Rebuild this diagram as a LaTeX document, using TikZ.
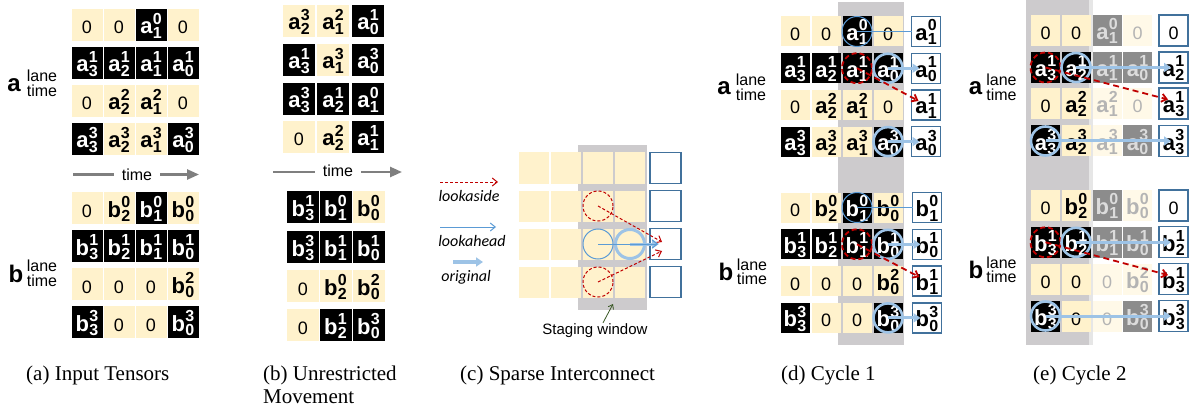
\documentclass[tikz,border=0pt]{standalone}
\usepackage{fontspec}
\setmainfont{Liberation Sans}
\newfontfamily\serifcap{Liberation Serif}
\newfontfamily\calib{Carlito}
\usetikzlibrary{arrows.meta,calc}
\definecolor{cream}{HTML}{FFF2CC}
\definecolor{fcream}{HTML}{FFF9E8}
\definecolor{gcell}{HTML}{8C8C8C}
\definecolor{gtext}{HTML}{DCDCDC}
\definecolor{ftext}{HTML}{B4B4B4}
\definecolor{swin}{HTML}{CDCBCD}
\definecolor{swlight}{HTML}{E6E6E6}
\definecolor{boxblue}{HTML}{41719C}
\definecolor{thinblue}{HTML}{5B9BD5}
\definecolor{lblue}{HTML}{9DC3E6}
\definecolor{dred}{HTML}{C00000}
\definecolor{tgray}{HTML}{7F7F7F}
\definecolor{dgreen}{HTML}{385723}
\newcommand{\el}[3]{\fontsize{22}{22}\selectfont\bfseries #1\kern0.3pt\rlap{\raisebox{9.5pt}{\fontsize{16}{16}\selectfont #3}}\raisebox{-4.5pt}{\fontsize{16}{16}\selectfont #2}}
\newcommand{\zr}{\fontsize{18}{18}\selectfont 0}
\newcommand{\C}[5]{\node[#1] (#2) at (#3,#4) {#5};}
\newcommand{\inputtensors}[1]{%
\C{lt}{#1a11}{\pxa}{\pya}{\zr}\C{lt}{#1a12}{\pxb}{\pya}{\zr}\C{bk}{#1a13}{\pxc}{\pya}{\el{a}{1}{0}}\C{lt}{#1a14}{\pxd}{\pya}{\zr}%
\C{bk}{#1a21}{\pxa}{\pyb}{\el{a}{3}{1}}\C{bk}{#1a22}{\pxb}{\pyb}{\el{a}{2}{1}}\C{bk}{#1a23}{\pxc}{\pyb}{\el{a}{1}{1}}\C{bk}{#1a24}{\pxd}{\pyb}{\el{a}{0}{1}}%
\C{lt}{#1a31}{\pxa}{\pyc}{\zr}\C{lt}{#1a32}{\pxb}{\pyc}{\el{a}{2}{2}}\C{lt}{#1a33}{\pxc}{\pyc}{\el{a}{1}{2}}\C{lt}{#1a34}{\pxd}{\pyc}{\zr}%
\C{bk}{#1a41}{\pxa}{\pyd}{\el{a}{3}{3}}\C{lt}{#1a42}{\pxb}{\pyd}{\el{a}{2}{3}}\C{lt}{#1a43}{\pxc}{\pyd}{\el{a}{1}{3}}\C{bk}{#1a44}{\pxd}{\pyd}{\el{a}{0}{3}}%
\C{lt}{#1b11}{\pxa}{\pye}{\zr}\C{lt}{#1b12}{\pxb}{\pye}{\el{b}{2}{0}}\C{bk}{#1b13}{\pxc}{\pye}{\el{b}{1}{0}}\C{lt}{#1b14}{\pxd}{\pye}{\el{b}{0}{0}}%
\C{bk}{#1b21}{\pxa}{\pyf}{\el{b}{3}{1}}\C{bk}{#1b22}{\pxb}{\pyf}{\el{b}{2}{1}}\C{bk}{#1b23}{\pxc}{\pyf}{\el{b}{1}{1}}\C{bk}{#1b24}{\pxd}{\pyf}{\el{b}{0}{1}}%
\C{lt}{#1b31}{\pxa}{\pyg}{\zr}\C{lt}{#1b32}{\pxb}{\pyg}{\zr}\C{lt}{#1b33}{\pxc}{\pyg}{\zr}\C{lt}{#1b34}{\pxd}{\pyg}{\el{b}{0}{2}}%
\C{bk}{#1b41}{\pxa}{\pyh}{\el{b}{3}{3}}\C{lt}{#1b42}{\pxb}{\pyh}{\zr}\C{lt}{#1b43}{\pxc}{\pyh}{\zr}\C{bk}{#1b44}{\pxd}{\pyh}{\el{b}{0}{3}}%
}
\tikzset{
 cell/.style={inner sep=0pt, outer sep=0pt, text height=20pt, text depth=2pt, minimum width=30pt, minimum height=31pt},
 lt/.style={cell, fill=cream, text=black},
 bk/.style={cell, fill=black, text=white},
 gy/.style={cell, fill=gcell, text=gtext},
 fd/.style={cell, fill=fcream, text=ftext},
 ob/.style={cell, draw=boxblue, line width=1.3pt, fill=white, text=black},
 bigl/.style={inner sep=0pt, anchor=base, font=\fontsize{24}{24}\selectfont\bfseries},
 smalll/.style={inner sep=0pt, anchor=base, font=\fontsize{16}{14}\selectfont},
 timetxt/.style={inner sep=0pt, inner xsep=8pt, anchor=base, font=\fontsize{16}{16}\selectfont},
 tarrow/.style={draw=tgray, line width=2.5pt},
 tarrowh/.style={draw=tgray, line width=2.5pt, -{Triangle[length=12pt,width=10pt]}},
 capt/.style={inner sep=0pt, anchor=base west, font=\serifcap\fontsize{21}{21}\selectfont},
 legtxt/.style={inner sep=0pt, font=\calib\itshape\fontsize{16}{16}\selectfont},
 thinc/.style={circle, draw=thinblue, line width=1pt, minimum size=30pt, inner sep=0pt},
 thickc/.style={circle, draw=lblue, line width=2.6pt, minimum size=29pt, inner sep=0pt},
 redc/.style={circle, draw=dred, line width=1.8pt, dash pattern=on 5pt off 3pt, minimum size=30pt, inner sep=0pt},
 redcthin/.style={circle, draw=dred, line width=1pt, dash pattern=on 3pt off 2pt, minimum size=30pt, inner sep=0pt},
 thickarr/.style={draw=lblue, line width=3pt, -{Triangle[length=7pt,width=9pt]}},
 thinline/.style={draw=thinblue, line width=1.1pt},
 thinarr/.style={draw=thinblue, line width=1pt, -{Straight Barb[length=5pt,width=8pt]}},
 redarr/.style={draw=dred, line width=1.8pt, dash pattern=on 6pt off 4pt, -{Straight Barb[length=5pt,width=8pt]}},
 redarrthin/.style={draw=dred, line width=1pt, dash pattern=on 3pt off 2pt, -{Straight Barb[length=5pt,width=8pt]}},
}
\begin{document}
\begin{tikzpicture}[x=1pt,y=-1pt]
\useasboundingbox[fill=white] (0,0) rectangle (1189,409);

% ---------------- (a) Input tensors
\begin{scope}[cell/.append style={minimum width=31pt, minimum height=32pt}]
\def\pxa{87}\def\pxb{119}\def\pxc{151}\def\pxd{183}
\def\pya{25}\def\pyb{63}\def\pyc{101}\def\pyd{139}
\def\pye{208}\def\pyf{246}\def\pyg{284}\def\pyh{322}
\inputtensors{A}
\end{scope}
\node[bigl] (Alab) at (14,92) {a};
\node[smalll] (Alane) at (42,82) {lane};
\node[smalll] (Atime) at (42,97) {time};
\node[bigl] (Blab) at (16,282) {b};
\node[smalll] (Blane) at (42,271) {lane};
\node[smalll] (Btime) at (42,286) {time};
\node[timetxt] (At) at (137,180) {time};
\coordinate (At1) at (73,174.5);
\coordinate (At2) at (199,174.5);
\draw[tarrow] (At1) -- (At1 -| At.west);
\draw[tarrowh] (At.east |- At2) -- (At2);

% ---------------- (b) Unrestricted movement
\begin{scope}[cell/.append style={minimum width=32pt, minimum height=32pt}]
\C{lt}{Ba11}{299}{21}{\el{a}{2}{3}}
\C{lt}{Ba12}{333}{21}{\el{a}{1}{2}}
\C{bk}{Ba13}{368}{21}{\el{a}{0}{1}}
\C{bk}{Ba21}{299}{60}{\el{a}{3}{1}}
\C{lt}{Ba22}{333}{60}{\el{a}{1}{3}}
\C{bk}{Ba23}{368}{60}{\el{a}{0}{3}}
\C{bk}{Ba31}{299}{99}{\el{a}{3}{3}}
\C{bk}{Ba32}{333}{99}{\el{a}{2}{1}}
\C{bk}{Ba33}{368}{99}{\el{a}{1}{0}}
\C{lt}{Ba41}{299}{137}{\zr}
\C{lt}{Ba42}{333}{137}{\el{a}{2}{2}}
\C{bk}{Ba43}{368}{137}{\el{a}{1}{1}}
\C{bk}{Bb11}{303}{207}{\el{b}{3}{1}}
\C{bk}{Bb12}{335.5}{207}{\el{b}{1}{0}}
\C{lt}{Bb13}{368.5}{207}{\el{b}{0}{0}}
\C{bk}{Bb21}{303}{247}{\el{b}{3}{3}}
\C{bk}{Bb22}{335.5}{247}{\el{b}{1}{1}}
\C{bk}{Bb23}{368.5}{247}{\el{b}{0}{1}}
\C{lt}{Bb31}{303}{286}{\zr}
\C{lt}{Bb32}{335.5}{286}{\el{b}{2}{0}}
\C{lt}{Bb33}{368.5}{286}{\el{b}{0}{2}}
\C{lt}{Bb41}{303}{325}{\zr}
\C{bk}{Bb42}{335.5}{325}{\el{b}{2}{1}}
\C{bk}{Bb43}{368.5}{325}{\el{b}{0}{3}}
\end{scope}
\node[timetxt] (Bt) at (338,177) {time};
\coordinate (Bt1) at (273,172);
\coordinate (Bt2) at (402,172);
\draw[tarrow] (Bt1) -- (Bt1 -| Bt.west);
\draw[tarrowh] (Bt.east |- Bt2) -- (Bt2);

% ---------------- (c) Sparse interconnect
\fill[swin] (578,145) rectangle (647,310);
\begin{scope}[cell/.append style={minimum width=30pt, minimum height=31pt}]
\foreach \r/\yy in {1/168,2/206,3/244,4/282}{
  \foreach \c/\xx in {1/534,2/566,3/598,4/630}{
    \node[lt] (Cc\r\c) at (\xx,\yy) {};
  }
  \node[ob, minimum width=31pt] (Co\r) at (665.5,\yy) {};
}
\end{scope}
\node[redcthin] (Cr1) at (598,206) {};
\node[redcthin] (Cr2) at (598,282) {};
\node[thinc] (Cb1) at (598,244) {};
\node[thickc, line width=3pt] (Cb2) at (630,244) {};
\draw[redarrthin] (Cr1.center) -- ($(Co3.west)+(12,-2)$);
\draw[redarrthin] (Cr2.center) -- ($(Co3.west)+(12,7)$);
\draw[thickarr] (Cb2.center) -- ($(Co3.west)+(9,0)$);
\draw[thinarr] (Cb1.center) -- ($(Co3.west)+(8,0)$);
\coordinate (L1a) at (440,182); \coordinate (L1b) at (498,182);
\coordinate (L2a) at (440,227); \coordinate (L2b) at (496,227);
\coordinate (L3a) at (453,262); \coordinate (L3b) at (483,262);
\draw[redarrthin] (L1a) -- (L1b);
\draw[thinarr] (L2a) -- (L2b);
\draw[thickarr, line width=3.5pt] (L3a) -- (L3b);
\node[legtxt] (Llook1) at (469,196) {lookaside};
\node[legtxt] (Llook2) at (472,241) {lookahead};
\node[legtxt] (Lorig) at (466,277) {original};
\node[inner sep=0pt, font=\fontsize{15}{15}\selectfont] (Stg) at (595,331) {Staging window};
\coordinate (StgT) at (613,304);
\draw[draw=dgreen, line width=0.8pt, -{Straight Barb[length=4pt,width=6pt]}] ($(Stg.north)+(8,-1)$) -- (StgT);

% ---------------- (d) Cycle 1
\fill[swin] (838,2) rectangle (904,345);
\begin{scope}[cell/.append style={minimum width=29pt, minimum height=30pt}]
\def\pxa{795}\def\pxb{826}\def\pxc{857}\def\pxd{888}
\def\pya{31.5}\def\pyb{68.2}\def\pyc{104.9}\def\pyd{141.6}
\def\pye{207.5}\def\pyf{244.3}\def\pyg{281.1}\def\pyh{317.9}
\inputtensors{D}
\C{ob}{Dao1}{926}{31.5}{\el{a}{1}{0}}
\C{ob}{Dao2}{926}{68.2}{\el{a}{0}{1}}
\C{ob}{Dao3}{926}{104.9}{\el{a}{1}{1}}
\C{ob}{Dao4}{926}{141.6}{\el{a}{0}{3}}
\C{ob}{Dbo1}{927}{207.5}{\el{b}{1}{0}}
\C{ob}{Dbo2}{927}{244.3}{\el{b}{0}{1}}
\C{ob}{Dbo3}{927}{281.1}{\el{b}{1}{1}}
\C{ob}{Dbo4}{927}{317.9}{\el{b}{0}{3}}
\end{scope}
\node[bigl] (Dalab) at (724,95) {a};
\node[smalll] (Dalane) at (751,86) {lane};
\node[smalll] (Datime) at (751,100.5) {time};
\node[bigl] (Dblab) at (726,280) {b};
\node[smalll] (Dblane) at (752,270) {lane};
\node[smalll] (Dbtime) at (752,284) {time};
\node[thinc] (Dca1) at (857,31.5) {};
\node[redc] (Dra) at (857,68.2) {};
\node[thickc] (Dca2) at (888,68.2) {};
\node[thickc] (Dca3) at (888,141.6) {};
\node[thinc] (Dcb1) at (857,207.5) {};
\node[redc] (Drb) at (857,244.3) {};
\node[thickc] (Dcb2) at (888,244.3) {};
\node[thickc] (Dcb3) at (888,317.9) {};
\draw[thinline] (Dca1.center) -- (Dao1.west);
\draw[thickarr] (Dca2.center) -- ($(Dao2.west)+(8,0)$);
\draw[redarr] (Dra.center) -- ($(Dao3.west)+(7,-4)$);
\draw[thickarr] (Dca3.center) -- ($(Dao4.west)+(8,0)$);
\draw[thinline] (Dcb1.center) -- (Dbo1.west);
\draw[thickarr] (Dcb2.center) -- ($(Dbo2.west)+(8,0)$);
\draw[redarr] (Drb.center) -- ($(Dbo3.west)+(7,-4)$);
\draw[thickarr] (Dcb3.center) -- ($(Dbo4.west)+(8,0)$);

% ---------------- (e) Cycle 2
\fill[swin] (1026,0) rectangle (1089,345);
\fill[swlight] (1089,0) rectangle (1093,345);
\begin{scope}[cell/.append style={minimum width=29pt, minimum height=31pt}]
\def\pxa{1045.5}\def\pxb{1076}\def\pxc{1107}\def\pxd{1137.5}
\def\pya{30.5}\def\pyb{67.5}\def\pyc{103.5}\def\pyd{141}
\def\pye{205.5}\def\pyf{242.3}\def\pyg{279.1}\def\pyh{316}
\C{lt}{Ea11}{\pxa}{\pya}{\zr}
\C{lt}{Ea12}{\pxb}{\pya}{\zr}
\C{gy}{Ea13}{\pxc}{\pya}{\el{a}{1}{0}}
\C{fd}{Ea14}{\pxd}{\pya}{\zr}
\C{bk}{Ea21}{\pxa}{\pyb}{\el{a}{3}{1}}
\C{bk}{Ea22}{\pxb}{\pyb}{\el{a}{2}{1}}
\C{gy}{Ea23}{\pxc}{\pyb}{\el{a}{1}{1}}
\C{gy}{Ea24}{\pxd}{\pyb}{\el{a}{0}{1}}
\C{lt}{Ea31}{\pxa}{\pyc}{\zr}
\C{lt}{Ea32}{\pxb}{\pyc}{\el{a}{2}{2}}
\C{fd}{Ea33}{\pxc}{\pyc}{\el{a}{1}{2}}
\C{fd}{Ea34}{\pxd}{\pyc}{\zr}
\C{bk}{Ea41}{\pxa}{\pyd}{\el{a}{3}{3}}
\C{lt}{Ea42}{\pxb}{\pyd}{\el{a}{2}{3}}
\C{fd}{Ea43}{\pxc}{\pyd}{\el{a}{1}{3}}
\C{gy}{Ea44}{\pxd}{\pyd}{\el{a}{0}{3}}
\C{lt}{Eb11}{\pxa}{\pye}{\zr}
\C{lt}{Eb12}{\pxb}{\pye}{\el{b}{2}{0}}
\C{gy}{Eb13}{\pxc}{\pye}{\el{b}{1}{0}}
\C{fd}{Eb14}{\pxd}{\pye}{\el{b}{0}{0}}
\C{bk}{Eb21}{\pxa}{\pyf}{\el{b}{3}{1}}
\C{bk}{Eb22}{\pxb}{\pyf}{\el{b}{2}{1}}
\C{gy}{Eb23}{\pxc}{\pyf}{\el{b}{1}{1}}
\C{gy}{Eb24}{\pxd}{\pyf}{\el{b}{0}{1}}
\C{lt}{Eb31}{\pxa}{\pyg}{\zr}
\C{lt}{Eb32}{\pxb}{\pyg}{\zr}
\C{fd}{Eb33}{\pxc}{\pyg}{\zr}
\C{fd}{Eb34}{\pxd}{\pyg}{\el{b}{0}{2}}
\C{bk}{Eb41}{\pxa}{\pyh}{\el{b}{3}{3}}
\C{lt}{Eb42}{\pxb}{\pyh}{\zr}
\C{fd}{Eb43}{\pxc}{\pyh}{\zr}
\C{gy}{Eb44}{\pxd}{\pyh}{\el{b}{0}{3}}
\C{ob}{Eao1}{1173.5}{30.5}{\zr}
\C{ob}{Eao2}{1173.5}{67.5}{\el{a}{2}{1}}
\C{ob}{Eao3}{1173.5}{103.5}{\el{a}{3}{1}}
\C{ob}{Eao4}{1173.5}{141}{\el{a}{3}{3}}
\C{ob}{Ebo1}{1173.5}{205.5}{\zr}
\C{ob}{Ebo2}{1173.5}{242.3}{\el{b}{2}{1}}
\C{ob}{Ebo3}{1173.5}{279.1}{\el{b}{3}{1}}
\C{ob}{Ebo4}{1173.5}{316}{\el{b}{3}{3}}
\end{scope}
\node[bigl] (Ealab) at (975.5,95) {a};
\node[smalll] (Ealane) at (1001.5,86) {lane};
\node[smalll] (Eatime) at (1001.5,100.5) {time};
\node[bigl] (Eblab) at (976,278) {b};
\node[smalll] (Eblane) at (1001.5,268) {lane};
\node[smalll] (Ebtime) at (1001.5,282) {time};
\node[redc] (Era) at (1045.5,67.5) {};
\node[thickc] (Eca1) at (1076,67.5) {};
\node[thickc] (Eca2) at (1045.5,141) {};
\node[redc] (Erb) at (1045.5,242.3) {};
\node[thickc] (Ecb1) at (1076,242.3) {};
\node[thickc] (Ecb2) at (1045.5,316) {};
\draw[redarr] (Era.center) -- ($(Eao3.west)+(9,-4)$);
\draw[thickarr] (Eca1.center) -- ($(Eao2.west)+(12,0)$);
\draw[thickarr] (Eca2.center) -- ($(Eao4.west)+(12,0)$);
\draw[redarr] (Erb.center) -- ($(Ebo3.west)+(9,-4)$);
\draw[thickarr] (Ecb1.center) -- ($(Ebo2.west)+(12,0)$);
\draw[thickarr] (Ecb2.center) -- ($(Ebo4.west)+(12,0)$);

% ---------------- captions
\node[capt] (capa) at (26,380) {(a) Input Tensors};
\node[capt] (capb) at (263,380) {(b) Unrestricted};
\node[capt] (capb2) at (263,403) {Movement};
\node[capt] (capc) at (460,380) {(c) Sparse Interconnect};
\node[capt] (capd) at (781,380) {(d) Cycle 1};
\node[capt] (cape) at (1033,380) {(e) Cycle 2};
\end{tikzpicture}
\end{document}
